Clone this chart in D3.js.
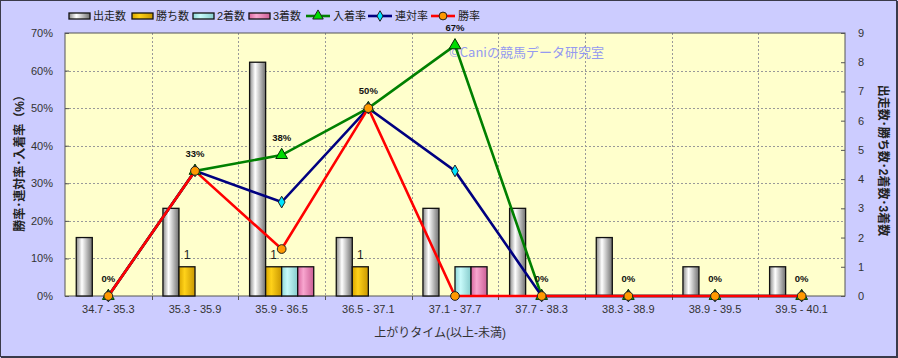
<!DOCTYPE html>
<html>
<head>
<meta charset="utf-8">
<script src="https://cdn.jsdelivr.net/npm/d3@7"></script>
<style>
  body { margin: 0; background: #fff; }
  svg { display: block; font-family: "Liberation Sans", "Noto Sans CJK JP", sans-serif; }
  .axis text { fill: #333; font-size: 11px; }
  .axis path, .axis line { stroke: #555; }
</style>
</head>
<body>
<div id="chart"></div>
<script>
var categories = ["34.7 - 35.3", "35.3 - 35.9", "35.9 - 36.5", "36.5 - 37.1", "37.1 - 37.7",
  "37.7 - 38.3", "38.3 - 38.9", "38.9 - 39.5", "39.5 - 40.1"];
var runs = [2, 3, 8, 2, 3, 3, 2, 1, 1];
var wins = [0, 1, 1, 1, 0, 0, 0, 0, 0];
var seconds = [0, 0, 1, 0, 1, 0, 0, 0, 0];
var thirds = [0, 0, 1, 0, 1, 0, 0, 0, 0];
var placeRate = [0, 33.3, 37.5, 50, 66.7, 0, 0, 0, 0];
var quinellaRate = [0, 33.3, 25, 50, 33.3, 0, 0, 0, 0];
var winRate = [0, 33.3, 12.5, 50, 0, 0, 0, 0, 0];
var leftTicks = [0, 10, 20, 30, 40, 50, 60, 70];
var rightTicks = [0, 1, 2, 3, 4, 5, 6, 7, 8, 9];

var width = 898, height = 358;
var margin = { top: 33, right: 53, bottom: 62, left: 65 };
var chartWidth = width - margin.left - margin.right;
var chartHeight = height - margin.top - margin.bottom;

var svg = d3.select("#chart").append("svg")
  .attr("width", width)
  .attr("height", height);

var defs = svg.append("defs");
var grads = [
  { id: "gRun", edge: "#8a8a8a", mid: "#ffffff", dark: "#707070" },
  { id: "gWin", edge: "#d9a600", mid: "#ffd21a", dark: "#c99700" },
  { id: "gSec", edge: "#8fd8d8", mid: "#c8fafa", dark: "#86cccc" },
  { id: "gThr", edge: "#d9669f", mid: "#f8a6cf", dark: "#cc5e95" }
];
grads.forEach(g => {
  var lg = defs.append("linearGradient").attr("id", g.id)
    .attr("x1", "0%").attr("x2", "100%").attr("y1", "0%").attr("y2", "0%");
  lg.append("stop").attr("offset", "0%").attr("stop-color", g.edge);
  lg.append("stop").attr("offset", "35%").attr("stop-color", g.mid);
  lg.append("stop").attr("offset", "100%").attr("stop-color", g.dark);
});

// background + frame
svg.append("rect").attr("x", 0).attr("y", 0).attr("width", width).attr("height", height)
  .attr("fill", "#ccccff");
svg.append("rect").attr("x", 0.5).attr("y", 0.5).attr("width", width - 2).attr("height", height - 2)
  .attr("fill", "none").attr("stroke", "#3a3a4a");
svg.append("line").attr("x1", 1).attr("x2", width).attr("y1", height - 0.5).attr("y2", height - 0.5)
  .attr("stroke", "#3a3a4a");
svg.append("line").attr("x1", width - 0.5).attr("x2", width - 0.5).attr("y1", 1).attr("y2", height)
  .attr("stroke", "#3a3a4a");

var g = svg.append("g").attr("transform", `translate(${margin.left}, ${margin.top})`);

var xScale = d3.scaleBand().domain(categories).range([0, chartWidth]);
var yLeft = d3.scaleLinear().domain([0, 70]).range([chartHeight, 0]);
var yRight = d3.scaleLinear().domain([0, 9]).range([chartHeight, 0]);

g.append("rect").attr("width", chartWidth).attr("height", chartHeight).attr("fill", "#ffffcc");

// grid
g.append("g").selectAll("line").data(leftTicks.slice(1, -1)).enter().append("line")
  .attr("x1", 0).attr("x2", chartWidth)
  .attr("y1", d => Math.round(yLeft(d)) + 0.5).attr("y2", d => Math.round(yLeft(d)) + 0.5)
  .attr("stroke", "#999").attr("stroke-dasharray", "2,2");
g.append("g").selectAll("line").data(categories.slice(1)).enter().append("line")
  .attr("x1", d => Math.round(xScale(d)) + 0.5).attr("x2", d => Math.round(xScale(d)) + 0.5)
  .attr("y1", 0).attr("y2", chartHeight)
  .attr("stroke", "#999").attr("stroke-dasharray", "2,2");

g.append("rect").attr("width", chartWidth).attr("height", chartHeight)
  .attr("fill", "none").attr("stroke", "#555");

// axes
var xAxis = d3.axisBottom(xScale).tickSize(0).tickPadding(9);
var xg = g.append("g").attr("class", "x axis")
  .attr("transform", `translate(0, ${chartHeight})`).call(xAxis);
xg.select(".domain").remove();
xg.selectAll(".bnd").data(categories.slice(1)).enter().append("line")
  .attr("x1", d => Math.round(xScale(d)) + 0.5).attr("x2", d => Math.round(xScale(d)) + 0.5)
  .attr("y1", 0).attr("y2", 4).attr("stroke", "#555");

var yAxisL = d3.axisLeft(yLeft).tickValues(leftTicks).tickFormat(d => d + "%")
  .tickSize(-4).tickPadding(12);
var ylg = g.append("g").attr("class", "y axis").call(yAxisL);
ylg.select(".domain").remove();

var yAxisR = d3.axisRight(yRight).tickValues(rightTicks).tickSize(-4).tickPadding(13);
var yrg = g.append("g").attr("class", "y axis")
  .attr("transform", `translate(${chartWidth}, 0)`).call(yAxisR);
yrg.select(".domain").remove();

// bars
var barW = xScale.bandwidth() * 0.185;
var barSeries = [
  { name: "出走数", values: runs, fill: "url(#gRun)" },
  { name: "勝ち数", values: wins, fill: "url(#gWin)" },
  { name: "2着数", values: seconds, fill: "url(#gSec)" },
  { name: "3着数", values: thirds, fill: "url(#gThr)" }
];
var bars = g.append("g").attr("class", "bars");
barSeries.forEach((s, si) => {
  bars.selectAll(".b" + si)
    .data(s.values.map((v, i) => ({ v: v, c: categories[i] })).filter(d => d.v > 0))
    .enter().append("rect")
    .attr("x", d => xScale(d.c) + xScale.bandwidth() / 2 - 2 * barW + si * barW)
    .attr("y", d => yRight(d.v))
    .attr("width", barW)
    .attr("height", d => chartHeight - yRight(d.v))
    .attr("fill", s.fill)
    .attr("stroke", "#111").attr("stroke-width", 1.3);
});
// win count labels
bars.selectAll(".wl")
  .data(wins.map((v, i) => ({ v: v, c: categories[i] })).filter(d => d.v > 0))
  .enter().append("text")
  .attr("x", d => xScale(d.c) + xScale.bandwidth() / 2 - barW / 2)
  .attr("y", d => yRight(d.v) - 8)
  .attr("text-anchor", "middle")
  .attr("font-size", 12).attr("fill", "#222")
  .text(d => d.v);

// watermark
g.append("text").attr("x", 384).attr("y", 24)
  .attr("font-family", "Noto Sans CJK JP, sans-serif")
  .attr("font-size", 13).attr("fill", "#959af0")
  .text("©Caniの競馬データ研究室");

// lines
var cx = i => xScale(categories[i]) + xScale.bandwidth() / 2;
var lineSeries = [
  { name: "入着率", values: placeRate, color: "#008000", marker: "triangle", mfill: "#00dd00" },
  { name: "連対率", values: quinellaRate, color: "#000080", marker: "diamond", mfill: "#00e5ff" },
  { name: "勝率", values: winRate, color: "#ff0000", marker: "circle", mfill: "#ff9900" }
];
var line = d3.line().x((d, i) => cx(i)).y(d => yLeft(d));
var symbols = { triangle: d3.symbolTriangle, diamond: d3.symbolDiamond, circle: d3.symbolCircle };
var sizes = { triangle: 60, diamond: 40, circle: 60 };
lineSeries.forEach(s => {
  g.append("path").datum(s.values)
    .attr("d", line).attr("fill", "none")
    .attr("stroke", s.color).attr("stroke-width", 2.6);
});
lineSeries.forEach(s => {
  g.append("g").selectAll("path").data(s.values).enter().append("path")
    .attr("transform", (d, i) => `translate(${cx(i)}, ${yLeft(d)})`)
    .attr("d", d3.symbol().type(symbols[s.marker]).size(sizes[s.marker]))
    .attr("fill", s.mfill).attr("stroke", s.marker === "triangle" ? "#003300" : "#222")
    .attr("stroke-width", 1);
});
// rate labels (place rate)
g.append("g").selectAll("text").data(placeRate).enter().append("text")
  .attr("x", (d, i) => cx(i))
  .attr("y", d => yLeft(d) - 14)
  .attr("text-anchor", "middle")
  .attr("font-size", 9.5).attr("font-weight", "bold").attr("fill", "#111")
  .text(d => Math.round(d) + "%");

// axis titles
svg.append("text").attr("x", 440).attr("y", 337)
  .attr("text-anchor", "middle").attr("font-size", 12).attr("fill", "#333")
  .text("上がりタイム(以上-未満)");
svg.append("text")
  .attr("transform", `translate(24, ${margin.top + chartHeight / 2 - 4}) rotate(-90)`)
  .attr("text-anchor", "middle").attr("font-size", 12).attr("font-weight", "bold").attr("fill", "#222")
  .text("勝率･連対率･入着率（%）");
svg.append("text")
  .attr("transform", `translate(879, ${margin.top + chartHeight / 2 - 4}) rotate(90)`)
  .attr("text-anchor", "middle").attr("font-size", 12).attr("font-weight", "bold").attr("fill", "#222")
  .text("出走数･勝ち数･2着数･3着数");

// legend
var legend = svg.append("g").attr("class", "legend");
var legendItems = [
  { type: "bar", name: "出走数", fill: "url(#gRun)", x: 69 },
  { type: "bar", name: "勝ち数", fill: "url(#gWin)", x: 132 },
  { type: "bar", name: "2着数", fill: "url(#gSec)", x: 193 },
  { type: "bar", name: "3着数", fill: "url(#gThr)", x: 249 },
  { type: "line", s: lineSeries[0], x: 306 },
  { type: "line", s: lineSeries[1], x: 368 },
  { type: "line", s: lineSeries[2], x: 431 }
];
legendItems.forEach(it => {
  var lg = legend.append("g").attr("transform", `translate(${it.x}, 16)`);
  if (it.type === "bar") {
    lg.append("rect").attr("x", 0).attr("y", -3).attr("width", 21).attr("height", 6)
      .attr("fill", it.fill).attr("stroke", "#111").attr("stroke-width", 1.3);
    lg.append("text").attr("x", 24).attr("y", 4).attr("font-size", 11).attr("fill", "#222").text(it.name);
  } else {
    lg.append("line").attr("x1", 0).attr("x2", 24).attr("y1", 0).attr("y2", 0)
      .attr("stroke", it.s.color).attr("stroke-width", 2.6);
    lg.append("path").attr("transform", "translate(12, 0)")
      .attr("d", d3.symbol().type(symbols[it.s.marker]).size(sizes[it.s.marker] * 0.8))
      .attr("fill", it.s.mfill).attr("stroke", "#222").attr("stroke-width", 1);
    lg.append("text").attr("x", 27).attr("y", 4).attr("font-size", 11).attr("fill", "#222").text(it.s.name);
  }
});
</script>
</body>
</html>
